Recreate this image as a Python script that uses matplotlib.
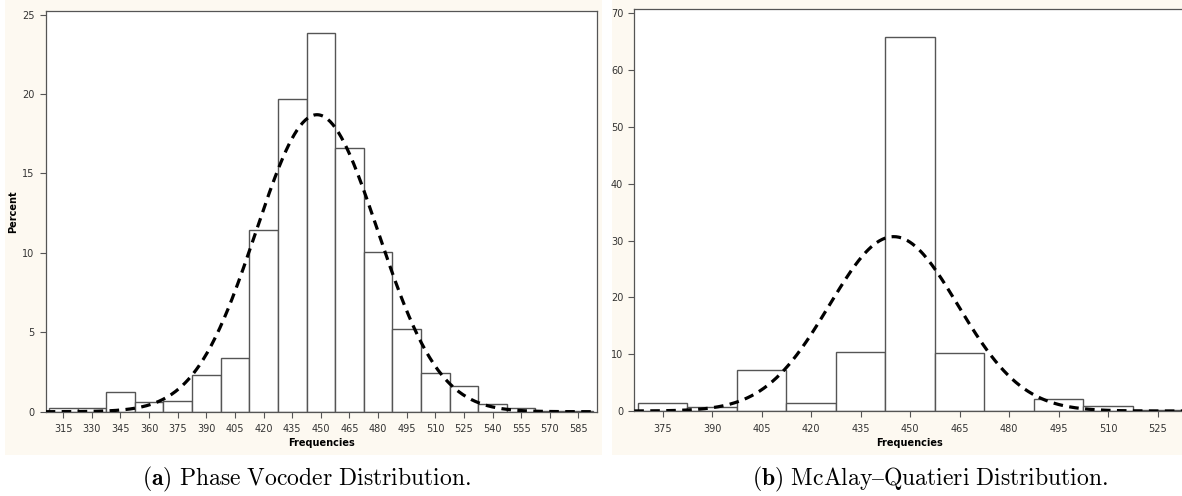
import numpy as np
import matplotlib.pyplot as plt
from matplotlib.patches import Rectangle

plt.rcParams['mathtext.fontset'] = 'cm'

# histogram bins (centre of each 15 Hz bin) and percentages
pv_bins = [315, 330, 345, 360, 375, 390, 405, 420, 435, 450,
           465, 480, 495, 510, 525, 540, 555, 570, 585]
pv_pct = [0.21, 0.21, 1.21, 0.59, 0.65, 2.28, 3.39, 11.44, 19.71, 23.87,
          16.62, 10.04, 5.23, 2.46, 1.60, 0.47, 0.25, 0.05, 0.05]
pv_ticks = list(range(315, 586, 15))
pv_mean, pv_std = 448.0, 32.0

mq_bins = [375, 390, 405, 420, 435, 450, 465, 480, 495, 510, 525]
mq_pct = [1.47, 0.65, 7.24, 1.47, 10.47, 65.8, 10.16, 0.0, 2.06, 0.83, 0.25]
mq_ticks = list(range(375, 526, 15))
mq_mean, mq_std = 445.0, 19.5

bin_w = 15
W, H = 1182, 496
cream = '#fdf9f1'
edge = '#555555'

fig = plt.figure(figsize=(W / 100, H / 100), dpi=100)
fig.patch.set_facecolor('white')

# cream panel backgrounds
for x0, x1 in [(5, 602), (612, 1182)]:
    fig.patches.append(Rectangle((x0 / W, (H - 455) / H), (x1 - x0) / W, 455 / H,
                                 transform=fig.transFigure, facecolor=cream,
                                 edgecolor='none', zorder=-10))


def hist_panel(rect, bins, pct, mean, std, ticks, xlim, ymax, ystep, ylabel):
    ax = fig.add_axes(rect)
    ax.bar(bins, pct, width=bin_w, color='white', edgecolor=edge, linewidth=1.0, zorder=2)
    xs = np.linspace(xlim[0], xlim[1], 400)
    # fitted normal curve, scaled to percent per bin
    ys = 100 * bin_w * np.exp(-0.5 * ((xs - mean) / std) ** 2) / (std * np.sqrt(2 * np.pi))
    ax.plot(xs, ys, color='black', linewidth=2.3, linestyle=(0, (3, 2)), zorder=3)
    ax.set_xlim(*xlim)
    ax.set_ylim(0, ymax)
    ax.set_xticks(ticks)
    ax.set_yticks(np.arange(0, ymax, ystep))
    ax.tick_params(axis='both', direction='out', length=4, width=0.8, color=edge,
                   labelsize=7, labelcolor='#333333', pad=4)
    ax.tick_params(axis='x', pad=5)
    for s in ax.spines.values():
        s.set_color(edge)
        s.set_linewidth(0.9)
    ax.set_xlabel('Frequencies', fontsize=7, fontweight='bold', labelpad=3)
    if ylabel:
        ax.set_ylabel(ylabel, fontsize=7, fontweight='bold', labelpad=3)
    return ax


ax1 = hist_panel([45.7 / W, (H - 411.7) / H, (596.7 - 45.7) / W, 401 / H],
                 pv_bins, pv_pct, pv_mean, pv_std, pv_ticks, (305.8, 594.6),
                 25.25, 5, 'Percent')

ax2 = hist_panel([634.3 / W, (H - 411) / H, (1184 - 634.3) / W, 401.7 / H],
                 mq_bins, mq_pct, mq_mean, mq_std, mq_ticks, (366.4, 533.0),
                 70.7, 10, None)
ax2.spines['right'].set_visible(False)

fig.text(306 / W, (H - 479) / H, r'$\mathbf{(a)}$ $\mathrm{Phase\ Vocoder\ Distribution.}$',
         ha='center', va='center', fontsize=17)
fig.text(930 / W, (H - 479) / H, '$\\mathbf{(b)}$ $\\mathrm{McAlay\u2013Quatieri\\ Distribution.}$',
         ha='center', va='center', fontsize=17)

fig.savefig('out.png', dpi=100)
